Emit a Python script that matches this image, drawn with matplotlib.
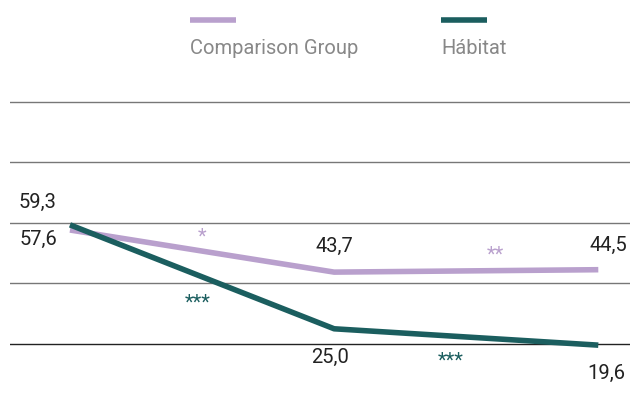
import matplotlib.pyplot as plt
from matplotlib.lines import Line2D

plt.rcParams['font.family'] = ['Roboto', 'DejaVu Sans']

# data
periods = [0, 1, 2]
comparison = [57.6, 43.7, 44.5]
habitat = [59.3, 25.0, 19.6]
series_names = ["Comparison Group", "Hábitat"]
grid_values = [20, 40, 60, 80, 100]

purple = "#b9a0cd"
teal = "#1b5e5f"

fig = plt.figure(figsize=(6.3, 4.0), dpi=100)
ax = fig.add_axes([10 / 630, 0, 620 / 630, 1 - 100 / 400])
ax.set_xlim(-0.227, 2.12)
ax.set_ylim(1.5, 100.5)
ax.axis("off")

for g in grid_values:
    ax.axhline(g, color="#222222" if g == 20 else "#777777", lw=1.0, zorder=1)

ax.plot(periods, comparison, color=purple, lw=4, solid_capstyle="butt", zorder=3)
ax.plot(periods, habitat, color=teal, lw=4, solid_capstyle="butt", zorder=4)

# value labels (offsets in pixels)
comp_off = [(-32, -9), (0, 26), (10, 24)]
hab_off = [(-32, 22), (-4, -29), (8, -28)]
for x, v, off in zip(periods, comparison, comp_off):
    ax.annotate(f"{v:.1f}".replace(".", ","), (x, v), xytext=off,
                textcoords="offset pixels", ha="center", va="center",
                fontsize=14.5, color="#222222")
for x, v, off in zip(periods, habitat, hab_off):
    ax.annotate(f"{v:.1f}".replace(".", ","), (x, v), xytext=off,
                textcoords="offset pixels", ha="center", va="center",
                fontsize=14.5, color="#222222")

# significance stars
ax.text(0.5, 55.3, "*", color=purple, fontsize=14.5, ha="center", va="center")
ax.text(1.61, 49.3, "**", color=purple, fontsize=14.5, ha="center", va="center")
ax.text(0.485, 33.5, "***", color=teal, fontsize=14.5, ha="center", va="center")
ax.text(1.44, 14.3, "***", color=teal, fontsize=14.5, ha="center", va="center")

# legend
for (x0, name, c) in [(190, series_names[0], purple), (441, series_names[1], teal)]:
    fig.add_artist(Line2D([x0 / 630, (x0 + 46) / 630], [1 - 20 / 400] * 2,
                          color=c, lw=4, solid_capstyle="butt"))
    fig.text(x0 / 630, 1 - 49 / 400, name, color="#888888", fontsize=14.5,
             ha="left", va="center")

fig.savefig("out.png", dpi=100)
